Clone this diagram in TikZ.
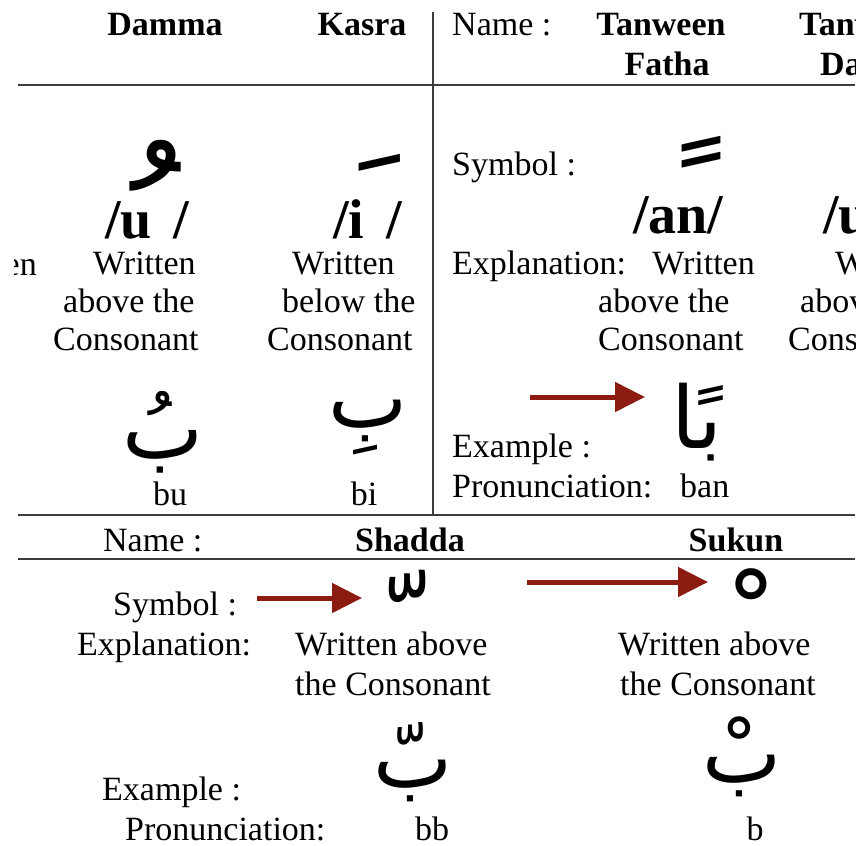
\documentclass[tikz,border=0pt]{standalone}
\usepackage{fontspec}
\setmainfont{Liberation Serif}
\newfontfamily\arabicfont[Script=Arabic]{DejaVu Sans}
\TeXXeTstate=1
\usetikzlibrary{arrows.meta}
\definecolor{arrowred}{RGB}{140,28,18}
\definecolor{rulegray}{RGB}{60,60,60}
\tikzset{
  txt/.style={inner sep=0pt, font=\fontsize{34}{38}\selectfont},
  hdr/.style={inner sep=0pt, font=\fontsize{34}{38}\selectfont\bfseries},
  phon/.style={inner sep=0pt, font=\fontsize{56}{60}\selectfont\bfseries},
  sym/.style={inner sep=0pt, font=\arabicfont\fontsize{#1}{#1}\selectfont},
  ex/.style={inner sep=0pt, font=\arabicfont\fontsize{#1}{#1}\selectfont},
  tablerule/.style={draw=rulegray, line width=1.8pt},
  redarrow/.style={draw=arrowred, line width=5pt, -{Triangle[length=30pt,width=29pt]}},
}
\begin{document}
\begin{tikzpicture}[x=1pt,y=-1pt]
\useasboundingbox (0,0) rectangle (865,846);
\clip (14,0) rectangle (855,846);
% table rules
\draw[tablerule] (18,85) -- (855,85);
\draw[tablerule] (433,12) -- (433,515);
\draw[tablerule] (18,515) -- (855,515);
\draw[tablerule] (18,559) -- (855,559);
% headers
\node[hdr, anchor=base] (hDamma) at (165,35) {Damma};
\node[hdr, anchor=base] (hKasra) at (362,35) {Kasra};
\node[txt, anchor=base west] (nameTop) at (452,35) {Name :};
\node[hdr, anchor=base] (hTFa) at (661,35) {Tanween};
\node[hdr, anchor=base] (hTFb) at (667,75) {Fatha};
\node[hdr, anchor=base west] (hTDa) at (799,35) {Tanween};
\node[hdr, anchor=base west] (hTDb) at (820,75) {Damma};
% symbols top
\node[sym=180, anchor=base] (sDamma) at (110,297) {\beginR ُ\endR};
\node[sym=145, anchor=base] (sKasra) at (367,151) {\beginR \char"00A0ِ\endR};
\node[sym=136, anchor=base] (sTanween) at (667,248) {\beginR ً\endR};
% phonetics
\node[phon, anchor=base west] (pU) at (105,238) {/u\hspace{22pt}/};
\node[phon, anchor=base west] (pI) at (333,238) {/i\hspace{22pt}/};
\node[phon, anchor=base west] (pAn) at (633,233) {/an/};
\node[phon, anchor=base west] (pUn) at (823,233) {/un/};
% explanations top
\node[txt, anchor=base east] (wPrev) at (37,275) {Written};
\node[txt, anchor=base west] (wD1) at (93,274) {Written};
\node[txt, anchor=base west] (wD2) at (63,312) {above the};
\node[txt, anchor=base west] (wD3) at (53,350) {Consonant};
\node[txt, anchor=base west] (wK1) at (292,274) {Written};
\node[txt, anchor=base west] (wK2) at (282,312) {below the};
\node[txt, anchor=base west] (wK3) at (267,350) {Consonant};
\node[txt, anchor=base west] (symTop) at (452,175) {Symbol :};
\node[txt, anchor=base west] (explTop) at (452,274) {Explanation:};
\node[txt, anchor=base east] (wT1) at (755,274) {Written};
\node[txt, anchor=base west] (wT2) at (598,312) {above the};
\node[txt, anchor=base west] (wT3) at (598,350) {Consonant};
\node[txt, anchor=base west] (wN1) at (835,274) {Written};
\node[txt, anchor=base west] (wN2) at (800,312) {above the};
\node[txt, anchor=base west] (wN3) at (788,350) {Consonant};
% examples top
\node[ex=86, anchor=base] (eBu) at (163,458) {\beginR بُ\endR};
\node[ex=84, anchor=base] (eBi) at (368,427) {\beginR بِ\endR};
\node[ex=86, anchor=base] (eBan) at (697,448) {\beginR بًا\endR};
\node[txt, anchor=base] (pBu) at (170,505) {bu};
\node[txt, anchor=base] (pBi) at (364,505) {bi};
\node[txt, anchor=base west] (exTop) at (452,457) {Example :};
\node[txt, anchor=base west] (prTop) at (452,497) {Pronunciation:};
\node[txt, anchor=base west] (pBan) at (680,497) {ban};
\coordinate (a1s) at (530,397);
\coordinate (a1e) at (645,397);
\draw[redarrow] (a1s) -- (a1e);
% bottom section
\node[txt, anchor=base west] (nameBot) at (103,551) {Name :};
\node[hdr, anchor=base] (hShadda) at (410,551) {Shadda};
\node[hdr, anchor=base] (hSukun) at (736,551) {Sukun};
\node[txt, anchor=base west] (symBot) at (113,615) {Symbol :};
\node[sym=120, anchor=base] (sShadda) at (377,674) {\beginR ّ\endR};
\node[sym=116, anchor=base] (sSukun) at (722,670) {\beginR ْ\endR};
\coordinate (a2s) at (257,598);
\coordinate (a2e) at (362,598);
\draw[redarrow] (a2s) -- (a2e);
\coordinate (a3s) at (527,582);
\coordinate (a3e) at (708,582);
\draw[redarrow] (a3s) -- (a3e);
\node[txt, anchor=base west] (explBot) at (77,655) {Explanation:};
\node[txt, anchor=base west] (wS1) at (295,655) {Written above};
\node[txt, anchor=base west] (wS2) at (295,695) {the Consonant};
\node[txt, anchor=base west] (wU1) at (618,655) {Written above};
\node[txt, anchor=base west] (wU2) at (620,695) {the Consonant};
\node[ex=84, anchor=base] (eBb) at (413,787) {\beginR بّ\endR};
\node[ex=84, anchor=base] (eB) at (742,782) {\beginR بْ\endR};
\node[txt, anchor=base west] (exBot) at (102,800) {Example :};
\node[txt, anchor=base west] (prBot) at (125,840) {Pronunciation:};
\node[txt, anchor=base] (pBb) at (432,840) {bb};
\node[txt, anchor=base] (pB) at (755,840) {b};
\end{tikzpicture}
\end{document}
